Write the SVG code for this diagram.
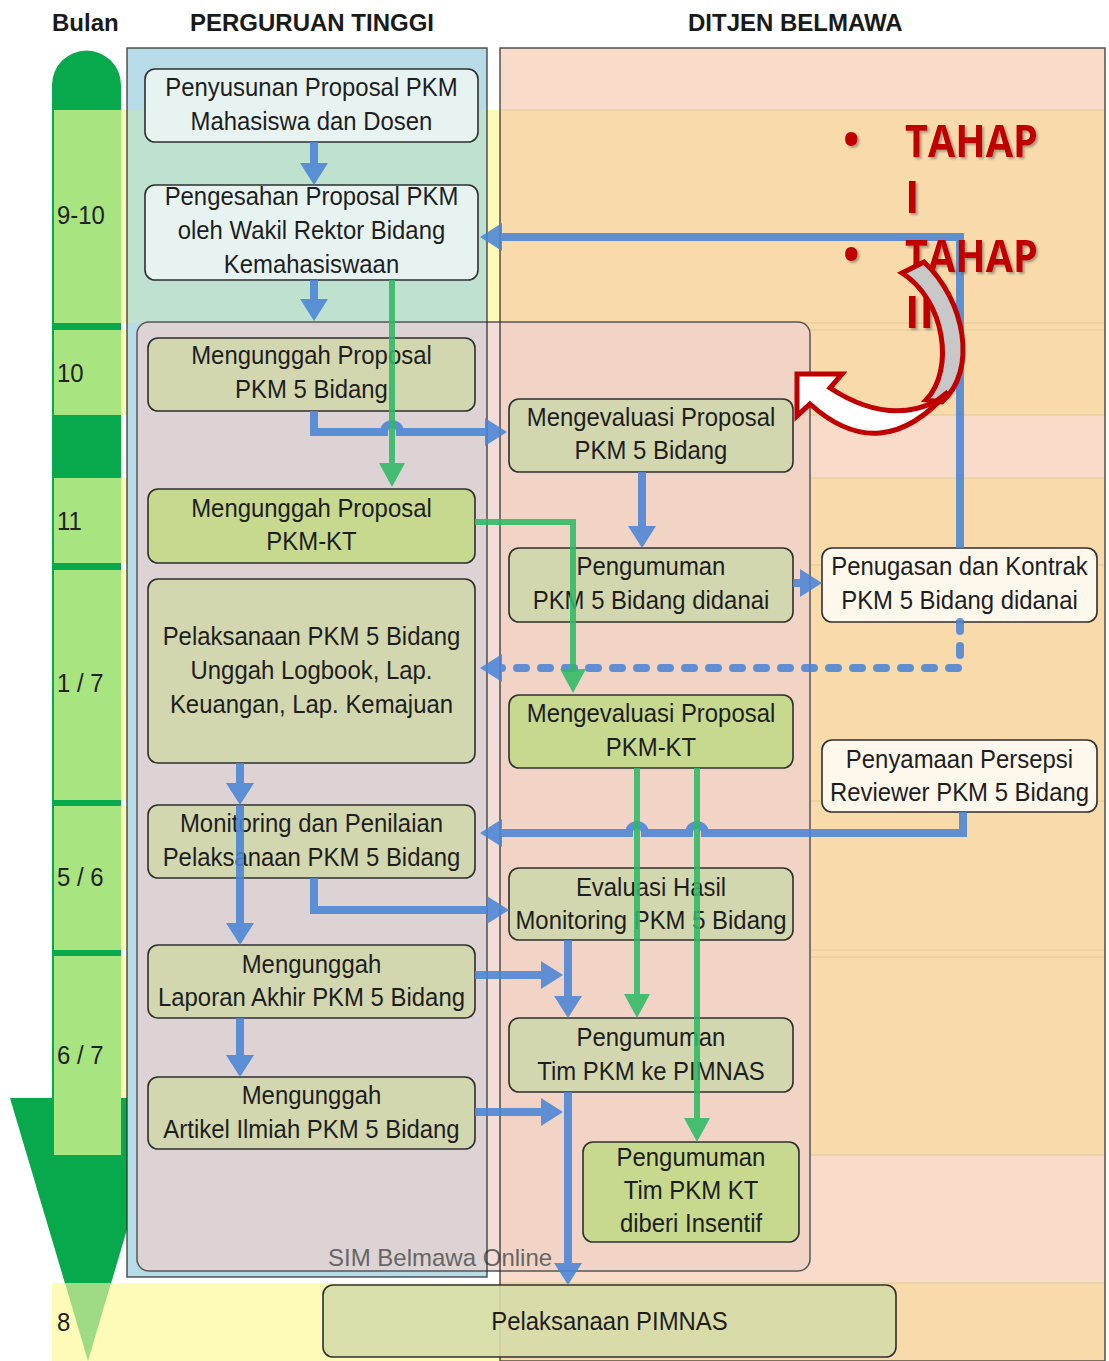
<svg xmlns="http://www.w3.org/2000/svg" width="1109" height="1361" viewBox="0 0 1109 1361">
<defs>
<style>
.nt{font-family:"Liberation Sans",Arial,sans-serif;font-size:26px;fill:#1e1e1e;text-anchor:middle}
.nd{stroke:#2f2f2f;stroke-width:1.6}
.lt{fill:#e7f3f0}.ol{fill:#d3d7af}.gr{fill:#c6d98f}.cr{fill:#fdf7ec}
.bl{fill:none;stroke:#4b85d6;stroke-width:8;marker-end:url(#ab);opacity:0.88}
.gn{fill:none;stroke:#2fba66;stroke-width:6;marker-end:url(#ag);opacity:0.88}
.mo{font-family:"Liberation Sans",Arial,sans-serif;font-size:26px;fill:#222}
.hd{font-family:"Liberation Sans",Arial,sans-serif;font-size:24px;font-weight:bold;fill:#1a1a1a}
.th{font-family:"Open Sans","Liberation Sans",sans-serif;font-weight:bold;font-size:44px;fill:#c00000}
.yb{fill:#fdf9b6}.dg{fill:#08a84c}.lg{fill:#a8e47f}
.fl{stroke:#e9cf9f;stroke-width:1.5}
</style>
<marker id="ab" markerUnits="userSpaceOnUse" markerWidth="24" markerHeight="28" refX="12" refY="14" orient="auto"><path d="M0,0 L22,14 L0,28 Z" fill="#4b85d6"/></marker>
<marker id="ag" markerUnits="userSpaceOnUse" markerWidth="24" markerHeight="26" refX="12" refY="13" orient="auto"><path d="M0,0 L24,13 L0,26 Z" fill="#2fba66"/></marker>
<filter id="sh" x="-10%" y="-10%" width="130%" height="140%"><feDropShadow dx="2" dy="2" stdDeviation="1.2" flood-color="#555" flood-opacity="0.5"/></filter>
<clipPath id="simclip"><rect x="137" y="322" width="673" height="949" rx="12"/></clipPath>
</defs>
<rect width="1109" height="1361" fill="#fff"/>
<g id="bands">
<rect class="yb" x="121" y="110" width="984" height="213"/>
<rect class="yb" x="121" y="330" width="984" height="85"/>
<rect class="yb" x="121" y="478" width="984" height="85"/>
<rect class="yb" x="121" y="570" width="984" height="230"/>
<rect class="yb" x="121" y="806" width="984" height="144"/>
<rect class="yb" x="121" y="956" width="984" height="199"/>
</g>
<g id="month-column">
<polygon class="dg" points="10,1098 166,1098 88,1361"/>
<path class="dg" d="M52,1155 L52,85 A34.5,34.5 0 0 1 121,85 L121,1155 Z"/>
<rect class="lg" x="54" y="110" width="67" height="213"/>
<rect class="lg" x="54" y="330" width="67" height="85"/>
<rect class="lg" x="54" y="478" width="67" height="85"/>
<rect class="lg" x="54" y="570" width="67" height="230"/>
<rect class="lg" x="54" y="806" width="67" height="144"/>
<rect class="lg" x="54" y="956" width="67" height="199"/>
</g>
<g id="lane-pt">
<rect x="127" y="48" width="360" height="1229" fill="#b8dce7"/>
<rect x="127" y="110" width="360" height="213" fill="#bfe1d0"/>
</g>
<g id="lane-ditjen">
<rect x="500" y="48" width="605" height="62" fill="#f8dcc9"/>
<rect x="500" y="110" width="605" height="305" fill="#f9dbab"/>
<rect x="500" y="415" width="605" height="63" fill="#f8dcc9"/>
<rect x="500" y="478" width="605" height="677" fill="#f9dbab"/>
<rect x="500" y="1155" width="605" height="128" fill="#f8dcc9"/>
<rect x="500" y="1283" width="605" height="78" fill="#f9dbab"/>
<path class="fl" d="M500,110H1105M500,323H1105M500,330H1105M500,415H1105M500,478H1105M500,565H1105M500,801H1105M500,950H1105M500,957H1105M500,1155H1105M500,1283H1105"/>
</g>
<g id="row-8">
<rect x="52" y="1283" width="448" height="78" fill="#fdfbb7"/>
<polygon points="65,1283 111,1283 88,1361" fill="#9edb84"/>
</g>
<g id="sim-belmawa">
<rect x="137" y="322" width="673" height="949" rx="12" fill="#f2d4c6"/>
<g clip-path="url(#simclip)">
<rect x="137" y="322" width="350" height="949" fill="#ddd3d4"/>
<rect x="487" y="322" width="13" height="949" fill="#f3ddd8"/>
</g>
<rect x="137" y="322" width="673" height="949" rx="12" fill="none" stroke="#555" stroke-width="1.5"/>
<text x="328" y="1266" font-family="Liberation Sans, Arial, sans-serif" font-size="24" fill="#666">SIM Belmawa Online</text>
</g>
<g id="lane-outlines" fill="none">
<rect x="127" y="48" width="360" height="1229" stroke="#2a2a2a" stroke-width="1.5" stroke-opacity="0.8"/>
<rect x="500" y="48" width="605" height="1313" stroke="#2a2a2a" stroke-width="1.5" stroke-opacity="0.8"/>
</g>
<g id="headers">
<text class="hd" x="52" y="31">Bulan</text>
<text class="hd" x="190" y="31">PERGURUAN TINGGI</text>
<text class="hd" x="688" y="31">DITJEN BELMAWA</text>
<g transform="matrix(0.92 0 0 1 4.56 0)">
<text class="mo" x="57" y="224">9-10</text>
<text class="mo" x="57" y="382">10</text>
<text class="mo" x="57" y="530">11</text>
<text class="mo" x="57" y="692">1 / 7</text>
<text class="mo" x="57" y="886">5 / 6</text>
<text class="mo" x="57" y="1064">6 / 7</text>
<text class="mo" x="57" y="1331">8</text>
</g>
</g>
<g id="n-penyusunan"><rect class="nd lt" x="145" y="69" width="333" height="73" rx="10"/><text class="nt" transform="matrix(0.92 0 0 1 24.92 0)"><tspan x="311.5" y="96">Penyusunan Proposal PKM</tspan><tspan x="311.5" y="130">Mahasiswa dan Dosen</tspan></text></g>
<g id="n-pengesahan"><rect class="nd lt" x="145" y="185" width="333" height="95" rx="10"/><text class="nt" transform="matrix(0.92 0 0 1 24.92 0)"><tspan x="311.5" y="205">Pengesahan Proposal PKM</tspan><tspan x="311.5" y="239">oleh Wakil Rektor Bidang</tspan><tspan x="311.5" y="273">Kemahasiswaan</tspan></text></g>
<g id="n-unggah5"><rect class="nd ol" x="148" y="338" width="327" height="73" rx="10"/><text class="nt" transform="matrix(0.92 0 0 1 24.92 0)"><tspan x="311.5" y="364">Mengunggah Proposal</tspan><tspan x="311.5" y="398">PKM 5 Bidang</tspan></text></g>
<g id="n-eval5"><rect class="nd ol" x="509" y="399" width="284" height="73" rx="10"/><text class="nt" transform="matrix(0.92 0 0 1 52.08 0)"><tspan x="651" y="426">Mengevaluasi Proposal</tspan><tspan x="651" y="459">PKM 5 Bidang</tspan></text></g>
<g id="n-unggahkt"><rect class="nd gr" x="148" y="489" width="327" height="74" rx="10"/><text class="nt" transform="matrix(0.92 0 0 1 24.92 0)"><tspan x="311.5" y="517">Mengunggah Proposal</tspan><tspan x="311.5" y="550">PKM-KT</tspan></text></g>
<g id="n-umum5"><rect class="nd ol" x="509" y="548" width="284" height="74" rx="10"/><text class="nt" transform="matrix(0.92 0 0 1 52.08 0)"><tspan x="651" y="575">Pengumuman</tspan><tspan x="651" y="609">PKM 5 Bidang didanai</tspan></text></g>
<g id="n-penugasan"><rect class="nd cr" x="822" y="548" width="275" height="74" rx="10"/><text class="nt" transform="matrix(0.92 0 0 1 76.76 0)"><tspan x="959.5" y="575">Penugasan dan Kontrak</tspan><tspan x="959.5" y="609">PKM 5 Bidang didanai</tspan></text></g>
<g id="n-pelaksanaan"><rect class="nd ol" x="148" y="579" width="327" height="184" rx="10"/><text class="nt" transform="matrix(0.92 0 0 1 24.92 0)"><tspan x="311.5" y="645">Pelaksanaan PKM 5 Bidang</tspan><tspan x="311.5" y="679">Unggah Logbook, Lap.</tspan><tspan x="311.5" y="713">Keuangan, Lap. Kemajuan</tspan></text></g>
<g id="n-evalkt"><rect class="nd gr" x="509" y="695" width="284" height="73" rx="10"/><text class="nt" transform="matrix(0.92 0 0 1 52.08 0)"><tspan x="651" y="722">Mengevaluasi Proposal</tspan><tspan x="651" y="756">PKM-KT</tspan></text></g>
<g id="n-penyamaan"><rect class="nd cr" x="822" y="740" width="275" height="72" rx="10"/><text class="nt" transform="matrix(0.92 0 0 1 76.76 0)"><tspan x="959.5" y="768">Penyamaan Persepsi</tspan><tspan x="959.5" y="801">Reviewer PKM 5 Bidang</tspan></text></g>
<g id="n-monitoring"><rect class="nd ol" x="148" y="805" width="327" height="73" rx="10"/><text class="nt" transform="matrix(0.92 0 0 1 24.92 0)"><tspan x="311.5" y="832">Monitoring dan Penilaian</tspan><tspan x="311.5" y="866">Pelaksanaan PKM 5 Bidang</tspan></text></g>
<g id="n-evalhasil"><rect class="nd ol" x="509" y="868" width="284" height="72" rx="10"/><text class="nt" transform="matrix(0.92 0 0 1 52.08 0)"><tspan x="651" y="896">Evaluasi Hasil</tspan><tspan x="651" y="929">Monitoring PKM 5 Bidang</tspan></text></g>
<g id="n-laporan"><rect class="nd ol" x="148" y="945" width="327" height="73" rx="10"/><text class="nt" transform="matrix(0.92 0 0 1 24.92 0)"><tspan x="311.5" y="973">Mengunggah</tspan><tspan x="311.5" y="1006">Laporan Akhir PKM 5 Bidang</tspan></text></g>
<g id="n-umumpimnas"><rect class="nd ol" x="509" y="1018" width="284" height="74" rx="10"/><text class="nt" transform="matrix(0.92 0 0 1 52.08 0)"><tspan x="651" y="1046">Pengumuman</tspan><tspan x="651" y="1080">Tim PKM ke PIMNAS</tspan></text></g>
<g id="n-artikel"><rect class="nd ol" x="148" y="1077" width="327" height="72" rx="10"/><text class="nt" transform="matrix(0.92 0 0 1 24.92 0)"><tspan x="311.5" y="1104">Mengunggah</tspan><tspan x="311.5" y="1138">Artikel Ilmiah PKM 5 Bidang</tspan></text></g>
<g id="n-umumkt"><rect class="nd gr" x="583" y="1142" width="216" height="100" rx="10"/><text class="nt" transform="matrix(0.92 0 0 1 55.28 0)"><tspan x="691" y="1166">Pengumuman</tspan><tspan x="691" y="1199">Tim PKM KT</tspan><tspan x="691" y="1232">diberi Insentif</tspan></text></g>
<g id="n-pimnas"><rect class="nd" x="323" y="1285" width="573" height="72" rx="10" fill="#d5dca8" fill-opacity="0.9"/><text class="nt" transform="matrix(0.92 0 0 1 48.76 0)" x="609.5" y="1330">Pelaksanaan PIMNAS</text></g>
<g id="connectors">
<path class="bl" d="M314,142 L314,175"/>
<path class="bl" d="M314,280 L314,311"/>
<path class="bl" d="M314,411 L314,432 L384,432 A8,8 0 0 1 400,432 L497,432"/>
<path class="bl" d="M642,472 L642,538"/>
<path class="bl" d="M793,583 L812,583"/>
<path class="bl" d="M960,548 L960,237 L490,237"/>
<path class="bl" d="M960,622 L960,668 L490,668" stroke-dasharray="9 15" stroke-linecap="round"/>
<path class="bl" d="M963,812 L963,833 L705,833 A8,8 0 0 0 689,833 L645,833 A8,8 0 0 0 629,833 L490,833"/>
<path class="bl" d="M240,763 L240,795"/>
<path class="bl" d="M240,805 L240,935"/>
<path class="bl" d="M314,878 L314,910 L499,910"/>
<path class="bl" d="M475,975 L553,975"/>
<path class="bl" d="M568,940 L568,1008"/>
<path class="bl" d="M240,1018 L240,1067"/>
<path class="bl" d="M475,1112 L553,1112"/>
<path class="bl" d="M568,1092 L568,1275"/>
<path class="gn" d="M392,280 L392,475"/>
<path class="gn" d="M475,522 L573,522 L573,681"/>
<path class="gn" d="M637,768 L637,1006"/>
<path class="gn" d="M697,768 L697,1130"/>
</g>
<g id="tahap" filter="url(#sh)">
<text class="th" x="843" y="155">•</text>
<text class="th" x="905" y="157" textLength="133" lengthAdjust="spacingAndGlyphs">TAHAP</text>
<text class="th" x="905" y="213">I</text>
<text class="th" x="843" y="270">•</text>
<text class="th" x="905" y="272" textLength="133" lengthAdjust="spacingAndGlyphs">TAHAP</text>
<text class="th" x="905" y="328">II</text>
</g>
<g id="curved-arrow" stroke="#c00000" stroke-width="5" stroke-linejoin="miter">
<path d="M902,273 L924,262 C965,300 978,370 942,402 L926,400 C955,370 945,300 902,273 Z" fill="#c8c8c8"/>
<path d="M797,374 L842,374 L830,388 Q887,425 935,402 L948,392 Q881,468 810,404 L797,416 Z" fill="#fff"/>
</g>
</svg>
